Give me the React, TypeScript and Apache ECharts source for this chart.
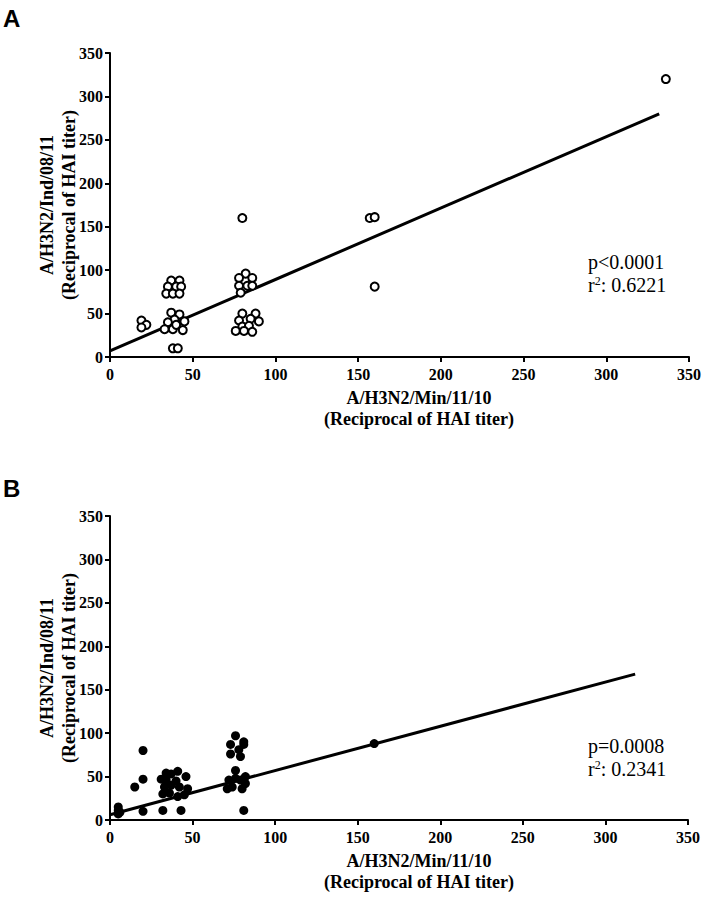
import React, { useEffect, useRef } from "react";
import * as echarts from "echarts";

// Panel A: A/H3N2/Min/11/10 (x) vs A/H3N2/Ind/08/11 (y), hollow markers
const pointsA: number[][] = [
  [19, 42], [22, 37], [19, 34],
  [37, 88], [42, 88], [35, 81], [40, 81], [43, 81], [34, 73], [38, 73], [42, 73],
  [37, 51], [42, 49], [39, 43], [35, 40], [45, 41], [33, 32], [38, 32], [44, 31], [40, 37],
  [38, 10], [41, 10],
  [82, 96], [78, 91], [86, 91], [78, 82], [83, 82], [86, 82], [79, 74],
  [80, 50], [88, 50], [85, 44], [90, 41], [78, 42], [80, 35], [84, 36], [76, 30], [81, 30], [86, 29],
  [80, 160],
  [157, 160], [160, 161], [160, 81],
  [336, 320],
];
const fitA: number[][] = [[0, 7], [332, 280]];

// Panel B: filled markers
const pointsB: number[][] = [
  [5, 15], [5, 11], [5, 7], [6, 9],
  [20, 80], [20, 47], [15, 38], [20, 10], [32, 11], [43, 11],
  [31, 47], [34, 54], [37, 53], [41, 56], [46, 50], [33, 38], [37, 40], [42, 38], [47, 36],
  [32, 30], [36, 31], [41, 27], [45, 29], [40, 45], [34, 46],
  [76, 97], [81, 90], [73, 87], [78, 81], [73, 76], [79, 73], [81, 87],
  [76, 57], [72, 46], [76, 48], [79, 46], [82, 50], [71, 36], [74, 38], [80, 36], [82, 42],
  [81, 11],
  [160, 88],
];
const fitB: number[][] = [[0, 6], [318, 168]];

const xTicks = [0, 50, 100, 150, 200, 250, 300, 350];
const yTicks = [0, 50, 100, 150, 200, 250, 300, 350];

const annotA = ["p<0.0001", "0.6221"];
const annotB = ["p=0.0008", "0.2341"];
const xTitle = ["A/H3N2/Min/11/10", "(Reciprocal of HAI titer)"];
const yTitle = ["A/H3N2/Ind/08/11", "(Reciprocal of HAI titer)"];

const SERIF = "'Liberation Serif', 'Times New Roman', serif";

export default function App() {
  const ref = useRef<HTMLDivElement>(null);
  useEffect(() => {
    if (!ref.current) return;
    const chart = echarts.init(ref.current, undefined, { renderer: "svg" });
    const axisCommon = (gridIndex: number, isX: boolean) => ({
      type: "value" as const,
      gridIndex,
      min: xTicks[0],
      max: isX ? xTicks[xTicks.length - 1] : yTicks[yTicks.length - 1],
      interval: 50,
      axisLine: { show: true, onZero: false, lineStyle: { color: "#000", width: 2 } },
      axisTick: { show: true, length: 5, lineStyle: { color: "#000", width: 2 } },
      splitLine: { show: false },
      axisLabel: {
        color: "#000",
        fontFamily: SERIF,
        fontWeight: "bold" as const,
        fontSize: 16,
        margin: isX ? 9 : 7,
      },
    });
    const panels = [
      { top: 53, letter: "A", annot: annotA, letterY: 15, annotOff: 95 },
      { top: 516, letter: "B", annot: annotB, letterY: 485, annotOff: 74 },
    ];
    const graphic: any[] = [];
    panels.forEach((p) => {
      const axisY = p.top + 304;
      graphic.push({
        type: "text",
        left: 3,
        top: p.letterY - 9,
        style: { text: p.letter, font: "bold 24px 'Liberation Sans', Arial, sans-serif", fill: "#000" },
      });
      graphic.push({
        type: "text",
        x: 419,
        y: axisY + 41,
        style: { text: xTitle[0], font: `bold 18px ${SERIF}`, fill: "#000", textAlign: "center", textVerticalAlign: "middle" },
      });
      graphic.push({
        type: "text",
        x: 419,
        y: axisY + 62,
        style: { text: xTitle[1], font: `bold 18px ${SERIF}`, fill: "#000", textAlign: "center", textVerticalAlign: "middle" },
      });
      graphic.push({
        type: "text",
        x: 47,
        y: p.top + 152,
        rotation: Math.PI / 2,
        style: { text: yTitle[0], font: `bold 18px ${SERIF}`, fill: "#000", textAlign: "center", textVerticalAlign: "middle" },
      });
      graphic.push({
        type: "text",
        x: 69,
        y: p.top + 152,
        rotation: Math.PI / 2,
        style: { text: yTitle[1], font: `bold 18px ${SERIF}`, fill: "#000", textAlign: "center", textVerticalAlign: "middle" },
      });
      graphic.push({
        type: "text",
        x: 588,
        y: axisY - p.annotOff,
        style: { text: p.annot[0], font: `20px ${SERIF}`, fill: "#000", textVerticalAlign: "middle" },
      });
      graphic.push({
        type: "text",
        x: 588,
        y: axisY - p.annotOff + 23,
        style: {
          text: `r{sup|2}: ${p.annot[1]}`,
          font: `20px ${SERIF}`,
          fill: "#000",
          textVerticalAlign: "middle",
          rich: {
            sup: { fontFamily: SERIF, fontSize: 12, verticalAlign: "top", padding: [0, 0, 8, 0], fill: "#000" },
          },
        },
      });
    });

    chart.setOption({
      animation: false,
      backgroundColor: "#fff",
      grid: [
        { left: 110, top: 53, width: 580, height: 304 },
        { left: 110, top: 516, width: 578, height: 304 },
      ],
      xAxis: [axisCommon(0, true), axisCommon(1, true)],
      yAxis: [axisCommon(0, false), axisCommon(1, false)],
      series: [
        {
          type: "line",
          xAxisIndex: 0,
          yAxisIndex: 0,
          data: fitA,
          symbol: "none",
          lineStyle: { color: "#000", width: 3 },
          z: 2,
        },
        {
          type: "scatter",
          xAxisIndex: 0,
          yAxisIndex: 0,
          data: pointsA,
          symbol: "circle",
          symbolSize: 8,
          itemStyle: { color: "#fff", borderColor: "#000", borderWidth: 2, opacity: 1 },
          z: 3,
        },
        {
          type: "line",
          xAxisIndex: 1,
          yAxisIndex: 1,
          data: fitB,
          symbol: "none",
          lineStyle: { color: "#000", width: 3 },
          z: 2,
        },
        {
          type: "scatter",
          xAxisIndex: 1,
          yAxisIndex: 1,
          data: pointsB,
          symbol: "circle",
          symbolSize: 9,
          itemStyle: { color: "#000", opacity: 1 },
          z: 3,
        },
      ],
      graphic,
    });
    return () => chart.dispose();
  }, []);
  return (
    <div
      ref={ref}
      style={{ position: "absolute", left: 0, top: 0, width: 704, height: 907, background: "#fff" }}
    />
  );
}
